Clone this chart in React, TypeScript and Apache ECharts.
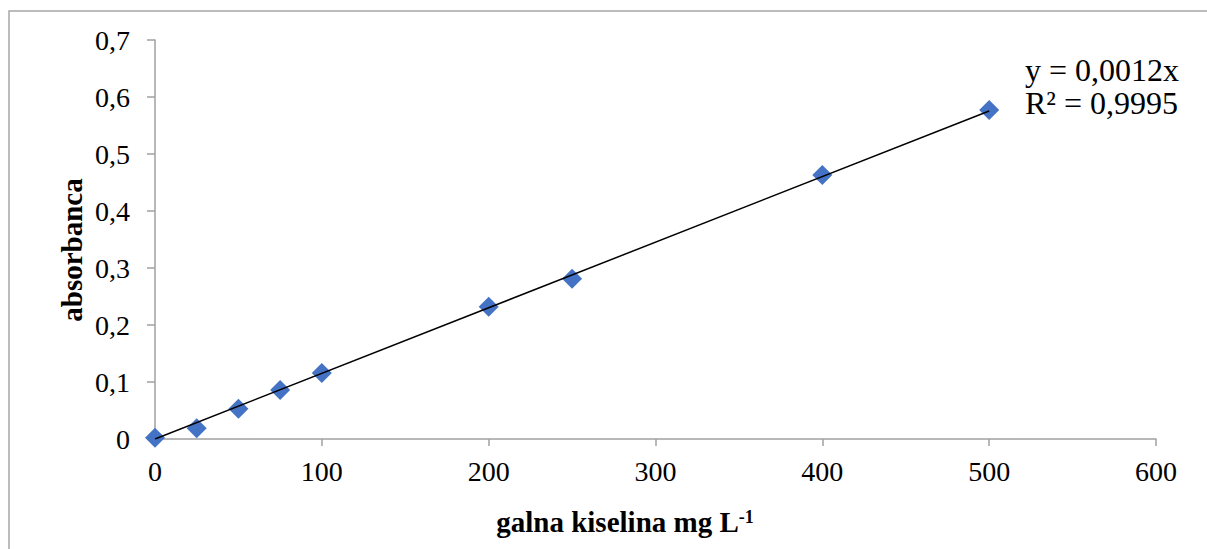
import React, { useEffect, useRef } from "react";
import * as echarts from "echarts";

const concentrations = [0, 25, 50, 75, 100, 200, 250, 400, 500];
const absorbances = [0.002, 0.019, 0.053, 0.086, 0.116, 0.232, 0.281, 0.463, 0.577];
const equationLines = ["y = 0,0012x", "R² = 0,9995"];
const xTitle = "galna kiselina mg L";
const xTitleSup = "-1";
const yTitle = "absorbanca";

const FONT = "Liberation Serif, Times New Roman, serif";

export default function App() {
  const ref = useRef<HTMLDivElement>(null);
  useEffect(() => {
    if (!ref.current) return;
    const chart = echarts.init(ref.current, null, { renderer: "svg" });
    // least-squares slope through origin (Excel trendline, intercept = 0)
    let sxy = 0;
    let sxx = 0;
    concentrations.forEach((x, i) => {
      sxy += x * absorbances[i];
      sxx += x * x;
    });
    const slope = sxy / sxx;
    const xMax = concentrations[concentrations.length - 1];
    const points = concentrations.map((x, i) => [x, absorbances[i]]);
    const axisColor = "#a0a0a0";
    chart.setOption({
      animation: false,
      backgroundColor: "#ffffff",
      grid: { left: 155, right: 51, top: 40, bottom: 110, containLabel: false },
      xAxis: {
        type: "value",
        min: 0,
        max: 600,
        interval: 100,
        axisLine: { show: true, lineStyle: { color: axisColor, width: 1.5 } },
        axisTick: { show: true, length: 7, inside: false, lineStyle: { color: axisColor, width: 1.5 } },
        splitLine: { show: false },
        axisLabel: { margin: 18, color: "#000", fontFamily: FONT, fontSize: 28 },
      },
      yAxis: {
        type: "value",
        min: 0,
        max: 0.7,
        interval: 0.1,
        axisLine: { show: true, lineStyle: { color: axisColor, width: 1.5 } },
        axisTick: { show: true, length: 8, inside: false, lineStyle: { color: axisColor, width: 1.5 } },
        splitLine: { show: false },
        axisLabel: {
          margin: 25,
          color: "#000",
          fontFamily: FONT,
          fontSize: 28,
          formatter: (v: number) => (v === 0 ? "0" : v.toFixed(1).replace(".", ",")),
        },
      },
      series: [
        {
          type: "scatter",
          data: points,
          symbol: "diamond",
          symbolSize: 20,
          itemStyle: { color: "#4472C4", opacity: 1 },
          z: 2,
        },
        {
          type: "line",
          data: [
            [0, 0],
            [xMax, slope * xMax],
          ],
          showSymbol: false,
          symbol: "none",
          lineStyle: { color: "#000", width: 1.5 },
          z: 3,
          silent: true,
        },
      ],
      graphic: [
        {
          type: "rect",
          shape: { x: 9, y: 11, width: 1400, height: 700 },
          style: { fill: "none", stroke: "#a6a6a6", lineWidth: 1.5 },
          silent: true,
        },
        {
          type: "text",
          left: 1025,
          top: 54,
          style: {
            text: equationLines[0],
            fontFamily: FONT,
            fontSize: 32,
            fill: "#000",
          },
        },
        {
          type: "text",
          left: 1025,
          top: 87,
          style: {
            text: equationLines[1],
            fontFamily: FONT,
            fontSize: 32,
            fill: "#000",
          },
        },
        {
          type: "text",
          x: 72,
          y: 250,
          rotation: Math.PI / 2,
          style: {
            text: yTitle,
            fontFamily: FONT,
            fontWeight: "bold",
            fontSize: 29,
            fill: "#000",
            align: "center",
            verticalAlign: "middle",
          },
        },
        {
          type: "text",
          x: 625,
          y: 522,
          style: {
            text: `{a|${xTitle}}{b|${xTitleSup}}`,
            align: "center",
            verticalAlign: "middle",
            rich: {
              a: { fontFamily: FONT, fontWeight: "bold", fontSize: 29, fill: "#000", verticalAlign: "bottom" },
              b: { fontFamily: FONT, fontWeight: "bold", fontSize: 18, fill: "#000", verticalAlign: "top" },
            },
          },
        },
      ],
    });
    return () => chart.dispose();
  }, []);
  return (
    <div
      ref={ref}
      style={{ position: "fixed", left: 0, top: 0, width: 1207, height: 549 }}
    />
  );
}
